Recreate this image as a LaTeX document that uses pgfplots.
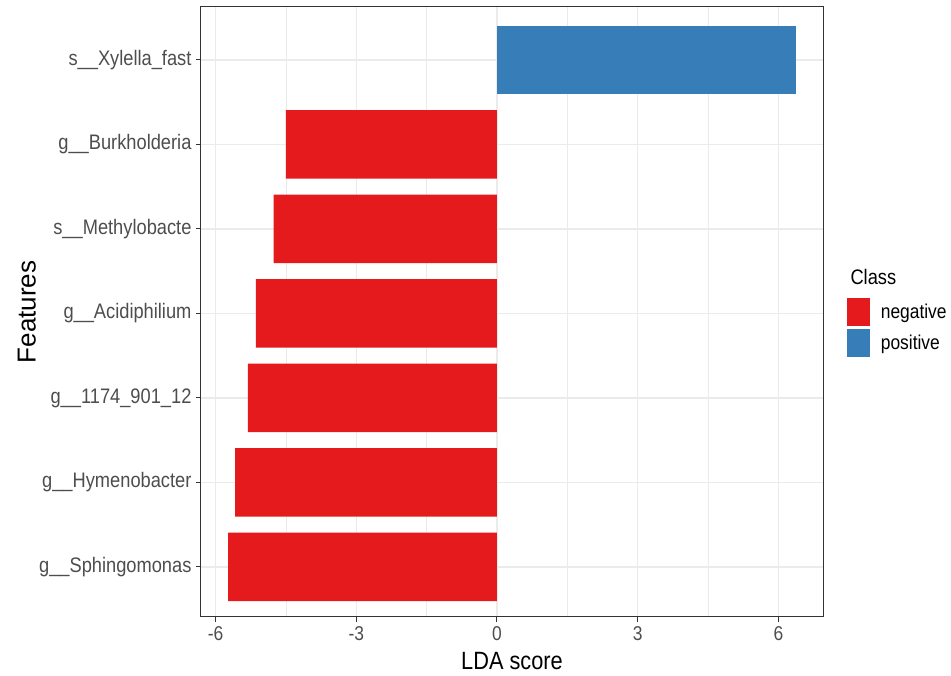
\documentclass[border=0pt]{standalone}
\usepackage{pgfplots}
\pgfplotsset{compat=1.18}
\usepackage{fontspec}
\setmainfont{Liberation Sans}[FakeStretch=0.87]
\newfontfamily\plainfont{Liberation Sans}
\definecolor{negred}{HTML}{E41A1C}
\definecolor{posblue}{HTML}{377EB8}
\definecolor{grey20}{HTML}{333333}
\definecolor{grey30}{HTML}{4D4D4D}
\definecolor{grid92}{HTML}{EBEBEB}
\begin{document}
\begin{tikzpicture}
\useasboundingbox (-201pt,-59pt) rectangle (750pt,617pt);
\begin{axis}[
  at={(0pt,0pt)}, anchor=south west,
  scale only axis, width=622pt, height=610pt,
  xmin=-6.31, xmax=6.95, ymin=0.408, ymax=7.627,
  xtick={-6,-3,0,3,6}, xticklabels={-6,-3,0,3,6},
  minor xtick={-4.5,-1.5,1.5,4.5},
  ytick={1,2,3,4,5,6,7},
  yticklabels={g\_\_Sphingomonas,g\_\_Hymenobacter,g\_\_1174\_901\_12,g\_\_Acidiphilium,s\_\_Methylobacte,g\_\_Burkholderia,s\_\_Xylella\_fast},
  xmajorgrids, ymajorgrids, xminorgrids,
  major grid style={grid92, line width=1.1pt},
  minor grid style={grid92, line width=0.6pt},
  axis line style={grey20, line width=1pt},
  tick align=outside, major tick length=5pt, minor tick length=0pt,
  tick style={grey20, line width=1pt},
  xtick pos=bottom, ytick pos=left,
  ticklabel style={font=\fontsize{20}{24}\selectfont, text=grey30},
  xticklabel style={yshift=-1pt},
  yticklabel style={xshift=-1pt, font=\fontsize{21}{25}\selectfont},
  xlabel={LDA score}, ylabel={\plainfont Features},
  label style={font=\fontsize{25}{30}\selectfont, text=black},
  xlabel style={at={(axis description cs:0.5,-0.072)}, anchor=center},
  ylabel style={at={(axis description cs:-0.28,0.5)}, anchor=center, font=\fontsize{26}{30}\selectfont},
  legend style={draw=none, fill=none, at={(axis description cs:1.038,0.523)}, anchor=north west,
    font=\fontsize{20}{24}\selectfont, inner sep=0pt, row sep=3pt,
    /tikz/every odd column/.style={column sep=9pt}},
  legend cell align=left,
  legend image code/.code={\fill[#1] (0pt,-14pt) rectangle (23pt,14pt);},
]
\addplot[xbar, fill=negred, draw=none, bar shift=0pt, bar width=0.81] coordinates {
(-5.73,1) (-5.58,2) (-5.31,3) (-5.14,4) (-4.76,5) (-4.50,6)};
\addlegendentry{negative}
\addplot[xbar, fill=posblue, draw=none, bar shift=0pt, bar width=0.81] coordinates {
(6.37,7)};
\addlegendentry{positive}
\end{axis}
\node[anchor=base west, font=\fontsize{21}{25}\selectfont] at (646pt,332pt) {Class};
\end{tikzpicture}
\end{document}
